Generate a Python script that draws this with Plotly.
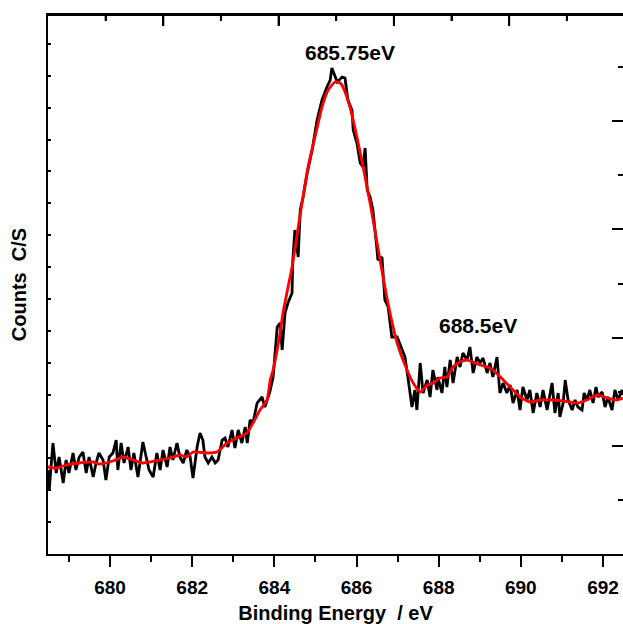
import plotly.graph_objects as go

# ---- Raw XPS F1s spectrum (black), binding energy in eV / intensity (a.u.) ----
raw_energy = [
    678.49, 678.52, 678.61, 678.69, 678.76, 678.86, 678.93, 679.00, 679.10, 679.17,
    679.25, 679.34, 679.42, 679.49, 679.59, 679.66, 679.73, 679.83, 679.90, 679.98,
    680.07, 680.15, 680.19, 680.27, 680.34, 680.44, 680.51, 680.58, 680.68, 680.80,
    680.88, 680.95, 681.05, 681.14, 681.22, 681.29, 681.39, 681.46, 681.53, 681.63,
    681.70, 681.78, 681.87, 681.95, 682.02, 682.12, 682.19, 682.26, 682.31, 682.39,
    682.48, 682.56, 682.63, 682.73, 682.80, 682.87, 682.97, 683.04, 683.12, 683.21,
    683.29, 683.34, 683.41, 683.48, 683.58, 683.70, 683.77, 683.89, 683.97, 684.07,
    684.14, 684.19, 684.26, 684.33, 684.43, 684.45, 684.50, 684.58, 684.63, 684.70,
    684.80, 684.92, 685.04, 685.16, 685.28, 685.36, 685.40, 685.48, 685.53, 685.65,
    685.72, 685.79, 685.89, 685.92, 686.01, 686.09, 686.16, 686.21, 686.26, 686.33,
    686.40, 686.50, 686.52, 686.62, 686.69, 686.77, 686.86, 686.99, 687.06, 687.18,
    687.25, 687.35, 687.42, 687.47, 687.55, 687.62, 687.72, 687.79, 687.86, 687.96,
    687.98, 688.08, 688.15, 688.20, 688.28, 688.35, 688.45, 688.52, 688.59, 688.69,
    688.76, 688.84, 688.93, 689.01, 689.08, 689.18, 689.25, 689.32, 689.42, 689.49,
    689.57, 689.66, 689.74, 689.81, 689.91, 689.98, 690.05, 690.15, 690.22, 690.30,
    690.39, 690.47, 690.54, 690.64, 690.76, 690.83, 690.91, 690.95, 691.03, 691.08,
    691.15, 691.25, 691.32, 691.39, 691.49, 691.54, 691.61, 691.68, 691.76, 691.83,
    691.88, 691.98, 692.05, 692.12, 692.22, 692.29, 692.37, 692.46, 692.49,
]
raw_counts = [
    84, 64, 111, 81, 97, 71, 94, 81, 101, 84,
    97, 102, 81, 97, 77, 91, 101, 94, 74, 97,
    101, 114, 84, 111, 91, 107, 84, 101, 77, 112,
    97, 84, 77, 101, 84, 104, 87, 107, 94, 111,
    97, 91, 104, 97, 76, 107, 121, 114, 97, 91,
    97, 91, 94, 114, 116, 107, 124, 106, 124, 111,
    127, 111, 134, 131, 151, 157, 147, 162, 177, 227,
    231, 204, 241, 251, 261, 294, 324, 297, 344, 357,
    381, 404, 434, 454, 467, 474, 486, 476, 472, 477,
    476, 454, 444, 424, 411, 391, 387, 406, 364, 357,
    344, 304, 294, 297, 254, 247, 217, 217, 209, 197,
    177, 147, 164, 144, 191, 161, 174, 157, 184, 164,
    177, 161, 187, 167, 194, 171, 197, 187, 201, 194,
    207, 181, 197, 191, 196, 181, 191, 177, 197, 161,
    171, 161, 169, 151, 164, 144, 167, 154, 164, 141,
    161, 147, 164, 144, 171, 141, 161, 137, 151, 174,
    154, 144, 154, 147, 144, 161, 154, 164, 151, 167,
    157, 162, 147, 157, 144, 164, 154, 164, 159,
]

# ---- Fitted envelope (red) ----
fit_energy = [
    678.49, 678.69, 678.93, 679.25, 679.59, 679.73, 680.07, 680.32, 680.56, 680.80,
    680.97, 681.22, 681.46, 681.70, 681.87, 682.02, 682.36, 682.60, 682.85, 683.09,
    683.33, 683.48, 683.65, 683.82, 683.90, 683.97, 684.14, 684.21, 684.43, 684.62,
    684.82, 684.99, 685.16, 685.31, 685.48, 685.60, 685.67, 685.84, 686.01, 686.16,
    686.33, 686.53, 686.75, 686.99, 687.23, 687.38, 687.55, 687.72, 687.87, 688.03,
    688.20, 688.35, 688.52, 688.69, 688.83, 689.01, 689.25, 689.50, 689.74, 689.86,
    689.98, 690.22, 690.47, 690.78, 691.03, 691.37, 691.61, 691.86, 692.10, 692.34,
    692.49,
]
fit_counts = [
    87, 86, 89, 91, 92, 90, 93, 97, 94, 91,
    92, 94, 96, 99, 97, 102, 101, 102, 111, 116,
    121, 131, 144, 154, 174, 184, 221, 241, 287, 337,
    387, 417, 447, 464, 472, 471, 467, 447, 417, 387,
    351, 304, 254, 211, 184, 171, 162, 169, 171, 176,
    177, 187, 192, 194, 192, 189, 186, 177, 167, 162,
    157, 152, 154, 154, 153, 151, 154, 159, 156, 154,
    156,
]

x_range = [678.49, 692.487]
y_range = [0, 539]
x_ticks = [680, 682, 684, 686, 688, 690, 692]
x_ticktext = ["680", "682", "684", "686", "688", "690", "692"]

# secondary frame rulers (top / right tick scales of the original frame)
top_range = [0, 9.974]
top_major_ticks = [2, 4, 6, 8]
top_minor_ticks = [1, 3, 5, 7, 9]
right_range = [0, 9.963]

peak_labels = ["685.75eV", "688.5eV"]
peak_label_x = [685.84, 688.96]
peak_label_y = [502, 229]

FONT = "Liberation Sans"

fig = go.Figure()
fig.add_trace(go.Scatter(x=raw_energy, y=raw_counts, mode="lines",
                         line=dict(color="black", width=2.8), showlegend=False,
                         hoverinfo="skip"))
fig.add_trace(go.Scatter(x=fit_energy, y=fit_counts, mode="lines",
                         line=dict(color="#ff0000", width=2.8, shape="spline", smoothing=0.6),
                         showlegend=False, hoverinfo="skip"))
# transparent helper traces that register the top and right ruler axes
fig.add_trace(go.Scatter(x=top_range, y=y_range, xaxis="x2", yaxis="y3", mode="markers",
                         marker=dict(opacity=0, size=1), showlegend=False, hoverinfo="skip"))
fig.add_trace(go.Scatter(x=x_range, y=right_range, xaxis="x", yaxis="y2", mode="markers",
                         marker=dict(opacity=0, size=1), showlegend=False, hoverinfo="skip"))

for txt, xx, yy in zip(peak_labels, peak_label_x, peak_label_y):
    fig.add_annotation(x=xx, y=yy, text=txt, showarrow=False,
                       font=dict(family=FONT, size=21, color="black", weight="bold"),
                       xanchor="center", yanchor="middle")

# top frame border and its inward ruler ticks (drawn on the top ruler scale)
fig.add_shape(type="line", xref="paper", yref="paper", x0=0, x1=1, y0=1, y1=1,
              line=dict(color="black", width=2), layer="above")
for t in top_major_ticks:
    fig.add_shape(type="line", xref="x2", yref="paper", x0=t, x1=t,
                  ysizemode="pixel", yanchor=1, y0=0, y1=-11,
                  line=dict(color="black", width=2), layer="above")
for t in top_minor_ticks:
    fig.add_shape(type="line", xref="x2", yref="paper", x0=t, x1=t,
                  ysizemode="pixel", yanchor=1, y0=0, y1=-6,
                  line=dict(color="black", width=2), layer="above")

fig.update_layout(
    width=623, height=624,
    margin=dict(l=48, r=0, t=15, b=70, autoexpand=False),
    paper_bgcolor="white", plot_bgcolor="rgba(0,0,0,0)",
    font=dict(family=FONT, color="black"),
    showlegend=False,
    xaxis=dict(
        domain=[0, 1], range=x_range, tickmode="array", tickvals=x_ticks, ticktext=x_ticktext,
        ticks="outside", ticklen=11, tickwidth=2, tickcolor="black",
        minor=dict(dtick=1, tick0=679, ticks="outside", ticklen=6, tickwidth=2, tickcolor="black"),
        showline=True, linewidth=2, linecolor="black", mirror=True,
        showgrid=False, zeroline=False, ticklabelstandoff=4, automargin=False,
        tickfont=dict(family=FONT, size=19, color="black", weight="bold"),
        title=dict(text="Binding Energy  / eV", standoff=10,
                   font=dict(family=FONT, size=20, color="black", weight="bold")),
    ),
    yaxis=dict(
        domain=[0, 1], range=y_range, tickmode="linear", tick0=32, dtick=31.87,
        ticks="inside", ticklen=3, tickwidth=2, tickcolor="black",
        showticklabels=False, automargin=False,
        showline=True, linewidth=2, linecolor="black", mirror=False,
        showgrid=False, zeroline=False,
        title=dict(text="Counts  C/S", standoff=14,
                   font=dict(family=FONT, size=20, color="black", weight="bold")),
    ),
    xaxis2=dict(
        domain=[0, 1], side="top", anchor="y3", range=top_range,
        tickmode="linear", tick0=0, dtick=2,
        ticks="inside", ticklen=11, tickwidth=2, tickcolor="black",
        minor=dict(dtick=1, tick0=1, ticks="inside", ticklen=6, tickwidth=2, tickcolor="black"),
        showticklabels=False, showline=True, linewidth=2, linecolor="black",
        showgrid=False, zeroline=False, fixedrange=True, automargin=False,
    ),
    yaxis3=dict(
        domain=[0, 1], anchor="x2", range=y_range, side="right",
        showticklabels=False, ticks="", showline=False, showgrid=False, zeroline=False,
        fixedrange=True, automargin=False,
    ),
    yaxis2=dict(
        overlaying="y", side="right", anchor="x", range=right_range,
        tickmode="linear", tick0=0, dtick=2,
        ticks="inside", ticklen=11, tickwidth=2, tickcolor="black",
        minor=dict(dtick=1, tick0=1, ticks="inside", ticklen=5, tickwidth=2, tickcolor="black"),
        showticklabels=False, showline=False, showgrid=False, zeroline=False,
        automargin=False,
    ),
)

fig.write_html("out.html")
